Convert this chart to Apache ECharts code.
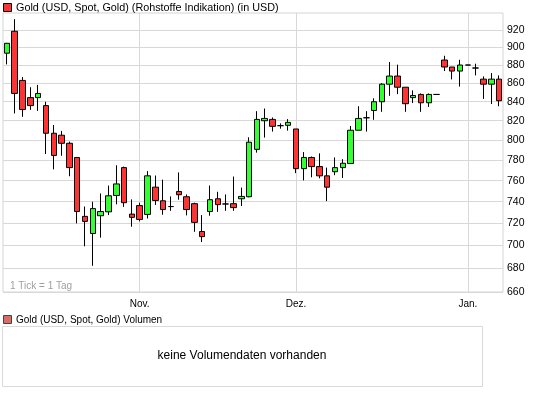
<!DOCTYPE html>
<html><head><meta charset="utf-8">
<script src="https://cdn.jsdelivr.net/npm/echarts@6/dist/echarts.min.js"></script>
<style>html,body{margin:0;padding:0;background:#fff}#c{width:545px;height:395px}</style>
</head><body><div id="c"></div>
<script>
const dates = [
'2008-10-09','2008-10-10','2008-10-13','2008-10-14','2008-10-15','2008-10-16','2008-10-17',
'2008-10-20','2008-10-21','2008-10-22','2008-10-23','2008-10-24','2008-10-27','2008-10-28',
'2008-10-29','2008-10-30','2008-10-31',
'2008-11-03','2008-11-04','2008-11-05','2008-11-06','2008-11-07','2008-11-10','2008-11-11',
'2008-11-12','2008-11-13','2008-11-14','2008-11-17','2008-11-18','2008-11-19','2008-11-20',
'2008-11-21','2008-11-24','2008-11-25','2008-11-26','2008-11-27','2008-11-28',
'2008-12-01','2008-12-02','2008-12-03','2008-12-04','2008-12-05','2008-12-08','2008-12-09',
'2008-12-10','2008-12-11','2008-12-12','2008-12-15','2008-12-16','2008-12-17','2008-12-18',
'2008-12-19','2008-12-22','2008-12-23','2008-12-24','2008-12-26','2008-12-29','2008-12-30',
'2008-12-31',
'2009-01-02','2009-01-05','2009-01-06','2009-01-07','2009-01-08'];

const opens = [893.3,918.5,863,844.4,844.4,835.9,807.1,805.1,796.9,782.7,
726.4,710.8,727,730.6,745.9,772.7,728.5,736.4,728.2,753.8,
740.9,735.5,749.7,744.7,738.2,712.6,730.9,742.8,737.9,738.2,
742.8,744.7,790.8,820,821.4,814.9,815.3,811.5,771.7,782.7,
773.7,764.7,768.7,772.7,776.7,810.2,823.1,830.7,840,858.9,
867.8,855.6,844.4,847.8,838.9,847.8,885.6,877.8,873.3,880,
876.7,864.4,858.9,864.4];
const closes = [904.6,848.9,831.7,835.9,848.9,807.1,784.7,796.9,772.7,730.9,
721.8,733.6,730.9,745.6,756.9,739.1,725.5,723.6,764.7,741.2,
732.7,735.5,746.6,732.7,720.9,708,741.9,737.3,737.9,734.5,
745,798,821.4,822.4,814.2,814.9,818.3,771.7,782.7,773.7,
764.7,753.8,772.7,777,810.2,822.4,823.1,840,858.9,867.8,
855.6,837.9,846.7,838.9,847.8,847.8,877.8,873.3,880,880,
876.7,858.9,864.4,841.1];
const lows = [880.7,827.6,824.1,831.4,830.3,786.1,771,784.4,764.3,720,
699.4,682.3,707.1,727.6,737.6,735.2,716.9,721.8,724.5,737,
727.9,731.5,741.9,727.3,712.3,703.1,727,730.6,731.5,731.5,
736,744.2,787.5,802.7,808.8,811.8,809.8,767.3,760.3,763.3,
762.3,740.6,765.3,762.7,776.7,810.2,808.8,821,829.3,846.3,
848.1,829.3,838.6,829.3,834.5,847.8,873.3,864.1,856.3,880,
868.5,843,837.6,835.2];
const highs = [905,932.7,866.7,855.6,858.1,840,815.6,809.5,798.6,782.7,
735.5,740,747.8,755.3,775,773.7,742.2,739.1,769.3,765,
761,745,768,746.9,739.1,727.6,755.3,749.4,746.9,764,
753.4,803,830,832.8,823.4,817.3,821.7,811.5,788.1,783.7,
786.8,772.7,782.7,781,814.6,835.2,830,843.7,860,883.3,
880.4,855.6,852.2,848.9,848.9,847.8,890.4,877.8,885.9,880,
881.5,867.4,871.1,868.5];

const yTicks = [660,680,700,720,740,760,780,800,820,840,860,880,900,920];
const monthDates = ['2008-11-03','2008-12-01','2009-01-02'];
const monthLabels = ['Nov.','Dez.','Jan.'];
const legendMain = 'Gold (USD, Spot, Gold) (Rohstoffe Indikation) (in USD)';
const legendVol = 'Gold (USD, Spot, Gold) Volumen';
const noVolText = 'keine Volumendaten vorhanden';
const tickNote = '1 Tick = 1 Tag';

const FONT = '"Liberation Sans", Arial, sans-serif';
const candleData = dates.map((d, i) => [opens[i], closes[i], lows[i], highs[i]]);

const chart = echarts.init(document.getElementById('c'), null, {renderer: 'canvas'});
chart.setOption({
  animation: false,
  backgroundColor: '#ffffff',
  grid: {left: 3, top: 13, width: 500, height: 279, show: true,
         borderColor: '#d4d4d4', borderWidth: 1, backgroundColor: '#ffffff'},
  xAxis: {
    type: 'category', data: dates, boundaryGap: true,
    axisLine: {show: false}, axisTick: {show: false}, splitLine: {show: false},
    axisLabel: {
      interval: (idx, val) => monthDates.indexOf(val) >= 0,
      formatter: (val) => { const k = monthDates.indexOf(val); return k >= 0 ? monthLabels[k] : ''; },
      color: '#000', fontSize: 10, fontFamily: FONT, margin: 7
    }
  },
  yAxis: {
    type: 'log', logBase: 10, min: 660, max: 940, position: 'right',
    axisLine: {show: false}, axisTick: {show: false}, splitLine: {show: false},
    axisLabel: {customValues: yTicks, color: '#000', fontSize: 10.5, fontFamily: FONT, margin: 4,
                formatter: (v) => String(Math.round(v))}
  },
  series: [{
    type: 'candlestick', data: candleData, barWidth: 6, z: 3,
    itemStyle: {color: '#33ff33', color0: '#ff3333', borderColor: '#000', borderColor0: '#000',
                borderColorDoji: '#000', borderWidth: 1},
    emphasis: {disabled: true},
    markLine: {
      silent: true, z: 1, symbol: ['none', 'none'], animation: false,
      label: {show: false}, emphasis: {disabled: true},
      lineStyle: {color: '#d8d8d8', width: 1, type: 'solid'},
      data: yTicks.map(v => ({yAxis: v})).concat(monthDates.map(d => ({xAxis: d})))
    }
  }],
  graphic: [
    {type: 'rect', shape: {x: 3.5, y: 3.5, width: 8, height: 8}, style: {fill: '#ff3333', stroke: '#000', lineWidth: 1}},
    {type: 'text', x: 16, y: 8, style: {text: legendMain, fill: '#000', font: '10.8px ' + FONT, verticalAlign: 'middle'}},
    {type: 'text', x: 10, y: 286, z: 10, style: {text: tickNote, fill: '#a0a0a0', font: '10px ' + FONT, verticalAlign: 'middle'}},
    {type: 'rect', shape: {x: 3.5, y: 315.5, width: 8, height: 8}, style: {fill: '#dd6a64', stroke: '#444', lineWidth: 1}},
    {type: 'text', x: 16, y: 320, style: {text: legendVol, fill: '#000', font: '10px ' + FONT, verticalAlign: 'middle'}},
    {type: 'rect', shape: {x: 2.5, y: 326.5, width: 480, height: 60}, style: {fill: 'none', stroke: '#d9d9d9', lineWidth: 1}},
    {type: 'text', x: 242, y: 356, style: {text: noVolText, fill: '#000', font: '12px ' + FONT, align: 'center', verticalAlign: 'middle'}}
  ]
});
</script>
</body></html>
